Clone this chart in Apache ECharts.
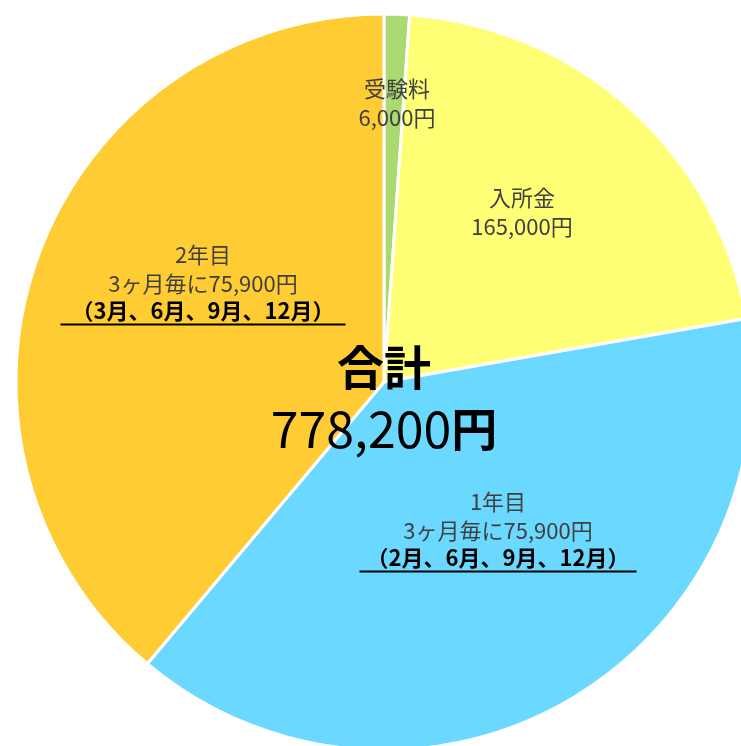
<!DOCTYPE html>
<html>
<head>
<meta charset="utf-8">
<script src="https://cdn.jsdelivr.net/npm/echarts@6/dist/echarts.min.js"></script>
<style>
  html, body { margin: 0; padding: 0; background: #fff; }
  #chart { width: 741px; height: 746px; }
</style>
</head>
<body>
<div id="chart"></div>
<script>
// data
const categories = ['受験料', '入所金', '1年目', '2年目']
const values = [6000, 165000, 303600, 303600]
const installment = 75900
const schedules = ['', '', '（2月、6月、9月、12月）', '（3月、6月、9月、12月）']
const colors = ['#a9d970', '#ffff75', '#6bd8ff', '#ffcc33']

// label anchors (style only)
const labelPos = [[397, 103], [522, 212], [498, 530], [203, 283]]
const underlineWidth = [0, 0, 277, 285]

const total = values.reduce((a, b) => a + b, 0)
const fmt = n => n.toLocaleString('en-US')
const FONT = '"Noto Sans CJK JP", "Noto Sans", sans-serif'

function labelText(params) {
  const i = params.dataIndex
  if (!schedules[i]) {
    return `{t|${categories[i]}}\n{t|${fmt(values[i])}円}`
  }
  return `{t|${categories[i]}}\n{t|3ヶ月毎に${fmt(installment)}円}\n{b|${schedules[i]}}\n{u${i}| }`
}

const rich = {
  t: { fontFamily: FONT, fontSize: 22, lineHeight: 29, color: '#404040' },
  b: { fontFamily: FONT, fontSize: 22, fontWeight: 'bold', lineHeight: 25, color: '#000' },
}
underlineWidth.forEach((w, i) => {
  if (w) rich['u' + i] = { width: w, height: 2, lineHeight: 2, fontSize: 1, backgroundColor: '#000' }
})

const chart = echarts.init(document.getElementById('chart'), null, { renderer: 'canvas' })
chart.setOption({
  animation: false,
  backgroundColor: '#fff',
  title: {
    text: `{a|合計}\n{n|${fmt(total)}}{y|円}`,
    left: 384,
    top: 336,
    textAlign: 'center',
    padding: 0,
    textStyle: {
      fontWeight: 'normal',
      rich: {
        a: { fontFamily: FONT, fontSize: 47, fontWeight: 'bold', lineHeight: 62, color: '#000' },
        n: { fontFamily: FONT, fontSize: 50, fontWeight: 'normal', lineHeight: 62, color: '#000' },
        y: { fontFamily: FONT, fontSize: 46, fontWeight: 'bold', lineHeight: 62, color: '#000' },
      },
    },
  },
  series: [
    {
      type: 'pie',
      center: [384, 382],
      radius: [0, 368],
      startAngle: 90,
      clockwise: true,
      minAngle: 4,
      avoidLabelOverlap: false,
      data: categories.map((name, i) => ({
        name,
        value: values[i],
        itemStyle: { color: colors[i] },
      })),
      itemStyle: { borderColor: '#fff', borderWidth: 3 },
      label: {
        show: true,
        position: 'inside',
        formatter: labelText,
        align: 'center',
        rich,
      },
      labelLine: { show: false },
      labelLayout(params) {
        const p = labelPos[params.dataIndex]
        return { x: p[0], y: p[1], align: 'center', verticalAlign: 'middle' }
      },
      emphasis: { disabled: true },
    },
  ],
})
</script>
</body>
</html>
